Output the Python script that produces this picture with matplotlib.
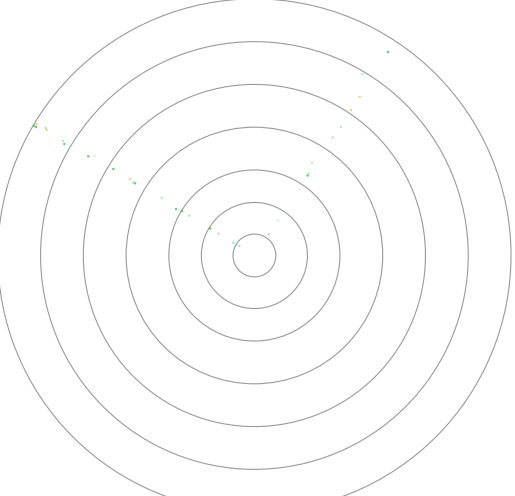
import matplotlib
matplotlib.use("Agg")
import matplotlib.pyplot as plt
from matplotlib.patches import Circle

# radial grid levels
ring_radii = [0.5, 1.24, 2.0, 3.0, 4.0, 5.0, 6.0]

# points (x, y) in data units, with colour group
pt_x = [-5.153, -5.090, -5.106, -4.880, -4.856, -4.475, -4.445, -3.884, -3.734, -3.299,
        -2.909, -2.831, -2.792, -2.167, -1.833, -1.693, -1.522, -1.031, -0.839, -0.493,
        -0.419, -0.353, 0.334, 0.556, 1.066, 1.242, 1.270, 1.347, 1.831, 2.025,
        2.259, 2.462, 2.532, 3.124]
pt_y = [3.035, 3.075, 3.004, 2.981, 2.941, 2.677, 2.607, 2.319, 2.333, 2.022,
        1.789, 1.711, 1.688, 1.351, 1.087, 1.040, 0.931, 0.629, 0.510, 0.299,
        0.257, 0.222, 0.496, 0.814, 1.548, 1.870, 1.913, 2.158, 2.759, 3.004,
        3.402, 3.706, 4.244, 4.758]
pt_group = ["green", "orange", "green", "light", "olive", "light", "green", "green", "faint", "green",
            "orange", "light", "green", "light", "green", "green", "light", "green", "lavender", "cyan",
            "cyan", "lavender", "lavender", "faint", "faint", "green", "light", "light", "light", "light",
            "orange", "orange", "light", "green"]

palette = {
    "green": ("#2cbb45", 0.75),
    "light": ("#7ddc92", 0.6),
    "faint": ("#a5e8b5", 0.45),
    "orange": ("#ffad40", 0.65),
    "olive": ("#c2d25a", 0.7),
    "lavender": ("#aea6f0", 0.6),
    "cyan": ("#5fdecb", 0.7),
}

W, H = 515, 496
fig = plt.figure(figsize=(W / 100, H / 100), dpi=100)
cx, cy_top, R = 254.4, 255.5, 256.6
ax = fig.add_axes([(cx - R) / W, (H - (cy_top + R)) / H, 2 * R / W, 2 * R / H])
ax.set_xlim(-6, 6)
ax.set_ylim(-6, 6)
ax.axis("off")

for r in ring_radii:
    ax.add_patch(Circle((0, 0), r, fill=False, edgecolor="#9a9a9a", lw=0.8, clip_on=False))

for x, y, g in zip(pt_x, pt_y, pt_group):
    c, a = palette[g]
    ax.scatter([x], [y], s=3, color=c, alpha=a, edgecolors="none", clip_on=False)

fig.savefig("out.png", dpi=100)
